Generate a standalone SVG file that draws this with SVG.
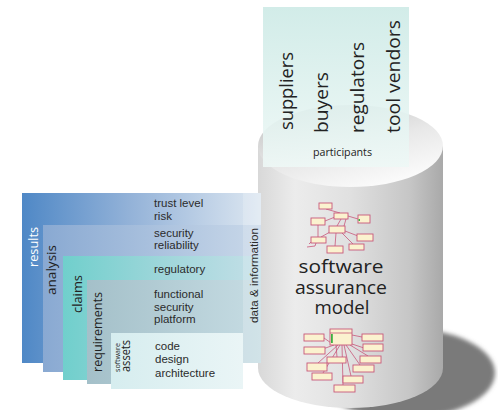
<svg xmlns="http://www.w3.org/2000/svg" width="498" height="410" viewBox="0 0 498 410">
<style>
.os{font-family:"Open Sans","DejaVu Sans",sans-serif;fill:#222}
.ls{font-family:"Liberation Sans",Arial,sans-serif;font-size:11.5px;fill:#2b2b2b}
.bx{fill:#fbf2cf;stroke:#c8587a;stroke-width:0.9}
.ln{stroke:#c8587a;stroke-width:0.8;fill:none}
</style>
<defs>
<filter id="blur" x="-10%" y="-10%" width="120%" height="120%"><feGaussianBlur stdDeviation="2"/></filter>
<linearGradient id="gBody" x1="0" y1="0" x2="1" y2="0">
<stop offset="0" stop-color="#d8d8d8"/><stop offset="0.2" stop-color="#ececec"/><stop offset="0.5" stop-color="#e0e0e0"/><stop offset="0.82" stop-color="#c6c6c6"/><stop offset="1" stop-color="#a9a9a9"/>
</linearGradient>
<linearGradient id="gTop" x1="0" y1="0" x2="0.6" y2="1">
<stop offset="0" stop-color="#bdbdbd"/><stop offset="0.6" stop-color="#e8e8e8"/><stop offset="1" stop-color="#fafafa"/>
</linearGradient>
<linearGradient id="gPart" x1="0" y1="0" x2="0" y2="1">
<stop offset="0" stop-color="#cdeae6"/><stop offset="1" stop-color="#eef8f6"/>
</linearGradient>
<linearGradient id="gRes" x1="0" y1="0" x2="1" y2="0">
<stop offset="0" stop-color="#4f88c6"/><stop offset="0.45" stop-color="#93b2d8"/><stop offset="1" stop-color="#dde7f1"/>
</linearGradient>
<linearGradient id="gAna" x1="0" y1="0" x2="1" y2="0">
<stop offset="0" stop-color="#89a9d2"/><stop offset="1" stop-color="#c9d8e9"/>
</linearGradient>
<linearGradient id="gCla" x1="0" y1="0" x2="1" y2="0">
<stop offset="0" stop-color="#70cfcc"/><stop offset="0.5" stop-color="#9ed6da"/><stop offset="1" stop-color="#c4dfe7"/>
</linearGradient>
<linearGradient id="gReq" x1="0" y1="0" x2="1" y2="0">
<stop offset="0" stop-color="#a4c0c9"/><stop offset="1" stop-color="#c6dce3"/>
</linearGradient>
<linearGradient id="gAss" x1="0" y1="0" x2="1" y2="0">
<stop offset="0" stop-color="#d6edef"/><stop offset="1" stop-color="#eaf5f6"/>
</linearGradient>
</defs>
<rect width="498" height="410" fill="#fff"/>

<g id="cylinder">
<ellipse cx="404" cy="373" rx="91" ry="45" fill="#7a7a7a" filter="url(#blur)"/>
<path d="M258,146 V368 A92.5,40 0 0 0 443,368 V146 Z" fill="url(#gBody)"/>
<ellipse cx="350.5" cy="146" rx="92.5" ry="41" fill="url(#gTop)"/>
<text class="os" font-size="19" text-anchor="middle" x="341" y="273" textLength="85" lengthAdjust="spacingAndGlyphs">software</text>
<text class="os" font-size="19" text-anchor="middle" x="341" y="294" textLength="92" lengthAdjust="spacingAndGlyphs">assurance</text>
<text class="os" font-size="19" text-anchor="middle" x="342" y="314" textLength="55" lengthAdjust="spacingAndGlyphs">model</text>
</g>

<g id="connectors">
<path class="ln" d="M326,209 L340,213 M335,217 L325,221 M348,216 L358,219 M341,219 L337,226 M346,219 L344,226 M318,225 L318,237 M330,232 L321,237 M345,231 L358,236 M336,233 L335,246 M342,233 L353,244 M311,242 L309,244 M316,243 L315,246 L307,247"/>
<path class="ln" d="M334,345 L324,338 M352,335 L362,337 M334,345 L320,350 M352,344 L364,348 M336,345 L337,357 M350,345 L368,356 M338,345 L318,363 M346,345 L360,365 M340,345 L323,373 M344,345 L351,376 M342,345 L343,385"/>
</g>

<g id="uml-top">
<rect class="bx" x="319" y="203" width="13" height="6"/>
<rect class="bx" x="334" y="213" width="14" height="6"/>
<rect class="bx" x="311" y="218" width="14" height="7"/>
<rect class="bx" x="358" y="215" width="12" height="8"/>
<rect x="358.5" y="219" width="1.5" height="2" fill="#3cb043"/>
<rect class="bx" x="329" y="226" width="16" height="7"/>
<rect class="bx" x="311" y="237" width="15" height="6"/>
<rect class="bx" x="357" y="234" width="16" height="7"/>
<rect class="bx" x="327" y="246" width="16" height="7"/>
<rect class="bx" x="349" y="244" width="15" height="6"/>
</g>

<g id="uml-bottom">
<rect class="bx" x="330" y="329" width="22" height="16"/>
<path class="ln" d="M330,333 H352"/>
<rect x="331" y="334" width="1.8" height="9" fill="#3cb043"/>
<rect class="bx" x="304" y="334" width="20" height="7"/>
<rect class="bx" x="362" y="334" width="21" height="7"/>
<rect class="bx" x="304" y="347" width="21" height="7"/>
<rect class="bx" x="363" y="344" width="20" height="7"/>
<rect class="bx" x="327" y="357" width="19" height="6"/>
<rect class="bx" x="360" y="356" width="21" height="7"/>
<rect class="bx" x="307" y="363" width="20" height="8"/>
<rect class="bx" x="353" y="365" width="21" height="7"/>
<rect class="bx" x="312" y="373" width="20" height="7"/>
<rect class="bx" x="343" y="376" width="20" height="7"/>
<rect class="bx" x="334" y="385" width="21" height="7"/>
</g>

<g id="participants">
<rect x="263" y="7" width="146" height="160" fill="url(#gPart)" opacity="0.9"/>
<text class="os" font-size="18" transform="translate(293,130) rotate(-90)" textLength="78" lengthAdjust="spacingAndGlyphs">suppliers</text>
<text class="os" font-size="18" transform="translate(328,133) rotate(-90)" textLength="61" lengthAdjust="spacingAndGlyphs">buyers</text>
<text class="os" font-size="18" transform="translate(364,133) rotate(-90)" textLength="91" lengthAdjust="spacingAndGlyphs">regulators</text>
<text class="os" font-size="18" transform="translate(400,133) rotate(-90)" textLength="113" lengthAdjust="spacingAndGlyphs">tool vendors</text>
<text class="os" font-size="11" x="313" y="156" textLength="59" lengthAdjust="spacingAndGlyphs">participants</text>
</g>

<g id="results">
<rect x="22" y="193" width="239" height="170" fill="url(#gRes)"/>
<text class="os" font-size="13" style="fill:#fff" transform="translate(38,267) rotate(-90)" textLength="40" lengthAdjust="spacingAndGlyphs">results</text>
<text class="ls" x="154" y="207">trust level</text>
<text class="ls" x="154" y="220">risk</text>
</g>

<g id="analysis">
<path d="M43,225 H261 V363 H243 V372 H43 Z" fill="url(#gAna)"/>
<text class="os" font-size="13.5" transform="translate(56,295) rotate(-90)" textLength="50" lengthAdjust="spacingAndGlyphs">analysis</text>
<text class="ls" x="154" y="237">security</text>
<text class="ls" x="154" y="249">reliability</text>
</g>

<g id="claims">
<path d="M63,256 H261 V363 H243 V380 H63 Z" fill="url(#gCla)"/>
<text class="os" font-size="13" transform="translate(82,313) rotate(-90)" textLength="38" lengthAdjust="spacingAndGlyphs">claims</text>
<text class="ls" x="154" y="273">regulatory</text>
</g>

<g id="requirements">
<path d="M87,280 H261 V363 H243 V384 H87 Z" fill="url(#gReq)"/>
<text class="os" font-size="13" transform="translate(102,372) rotate(-90)" textLength="80" lengthAdjust="spacingAndGlyphs">requirements</text>
<text class="ls" x="154" y="298">functional</text>
<text class="ls" x="154" y="311">security</text>
<text class="ls" x="154" y="323">platform</text>
</g>

<g id="software-assets">
<rect x="111" y="333" width="132" height="56" fill="url(#gAss)"/>
<text class="os" font-size="7" transform="translate(120,372) rotate(-90)" textLength="29" lengthAdjust="spacingAndGlyphs">software</text>
<text class="os" font-size="12.5" transform="translate(130,372) rotate(-90)" textLength="32" lengthAdjust="spacingAndGlyphs">assets</text>
<text class="ls" x="155" y="350">code</text>
<text class="ls" x="155" y="363">design</text>
<text class="ls" x="155" y="377">architecture</text>
</g>

<g id="data-information">
<rect x="243" y="193" width="18" height="170" fill="#fff" opacity="0.2"/>
<text class="ls" transform="translate(258,323) rotate(-90)" textLength="95" lengthAdjust="spacingAndGlyphs">data &amp; information</text>
</g>
</svg>
